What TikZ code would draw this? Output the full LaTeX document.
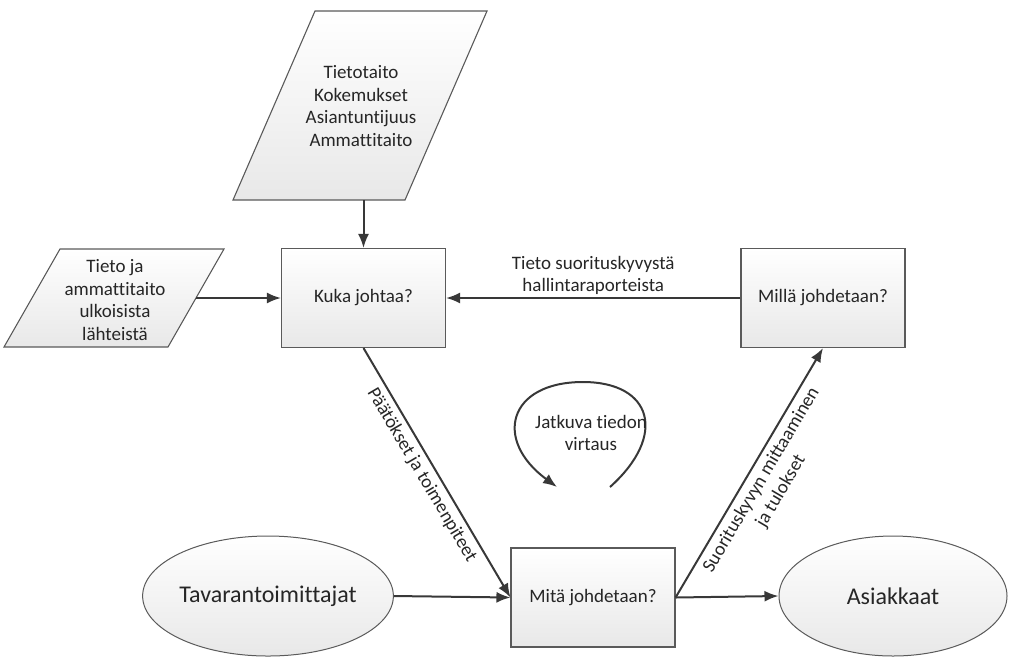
\documentclass[tikz,border=0pt]{standalone}
\usepackage{fontspec}
\setmainfont{Carlito}[Ligatures=NoCommon]
\usetikzlibrary{arrows.meta,shapes.geometric}
\definecolor{ink}{HTML}{262626}
\definecolor{edge}{HTML}{5A5A5A}
\definecolor{wire}{HTML}{383838}
\begin{document}
\begin{tikzpicture}[x=1pt,y=-1pt,
  every node/.style={text=ink, font=\fontsize{19}{22.5}\selectfont},
  box/.style={draw=edge, line width=1.1pt, top color=white, bottom color=black!9,
    minimum width=164pt, minimum height=99pt, inner sep=0pt},
  oval/.style={ellipse, draw=edge, line width=1pt, top color=white, bottom color=black!9,
    inner sep=0pt, font=\fontsize{24}{28}\selectfont},
  slab/.style={draw=edge, line width=1.1pt, top color=white, bottom color=black!9},
  flow/.style={draw=wire, line width=2pt, -{Latex[length=14pt,width=11pt]}},
  tag/.style={align=center, inner sep=2pt},
  slant/.style={align=center, inner sep=5pt, sloped, below}]
\useasboundingbox (0,0) rectangle (1019,657);

% process boxes
\node[box] (kuka)  at (363.5,298)   {Kuka johtaa?};
\node[box] (milla) at (823,298)     {Millä johdetaan?};
\node[box] (mita)  at (593,597.5)   {Mitä johdetaan?};

% terminals
\node[oval, minimum width=240pt, minimum height=120pt] (tava) at (268,596) {Tavarantoimittajat};
\node[oval, minimum width=228pt, minimum height=120pt] (asia) at (893,596) {Asiakkaat};

% input data (parallelograms)
\path[slab] (315,11) -- (487,11) -- (405,200) -- (233,200) -- cycle;
\node[align=center] (taito) at (361,106) {Tietotaito\\Kokemukset\\Asiantuntijuus\\Ammattitaito};
\coordinate (taitoout) at (363.5,200);

\path[slab] (60,249) -- (224,249) -- (168,347) -- (4,347) -- cycle;
\node[align=center] (ulko) at (115,300) {Tieto ja\\ammattitaito\\ulkoisista\\lähteistä};
\coordinate (ulkoout) at (196,298);

% connectors
\draw[flow] (taitoout) -- (kuka.north);
\draw[flow] (ulkoout) -- (kuka.west);
\draw[flow] (milla.west) -- node[above, tag] {Tieto suorituskyvystä\\hallintaraporteista} (kuka.east);
\draw[flow] (kuka.south) -- node[slant, pos=0.48] {Päätökset ja toimenpiteet} (mita.west);
\draw[flow] (mita.east) -- node[slant, pos=0.5] {Suorituskyvyn mittaaminen\\ja tulokset} (milla.south);
\draw[flow] (tava.east) -- (mita.west);
\draw[flow] (mita.east) -- (asia.west);

% continuous information loop
\coordinate (loopA) at (610,487);
\coordinate (loopB) at (557,487);
\draw[flow] (loopA) .. controls (668,435) and (652,382) .. (583,382)
  .. controls (508,382) and (493,440) .. (loopB);
\node[align=center] (jatk) at (591,433) {Jatkuva tiedon\\virtaus};
\end{tikzpicture}
\end{document}
